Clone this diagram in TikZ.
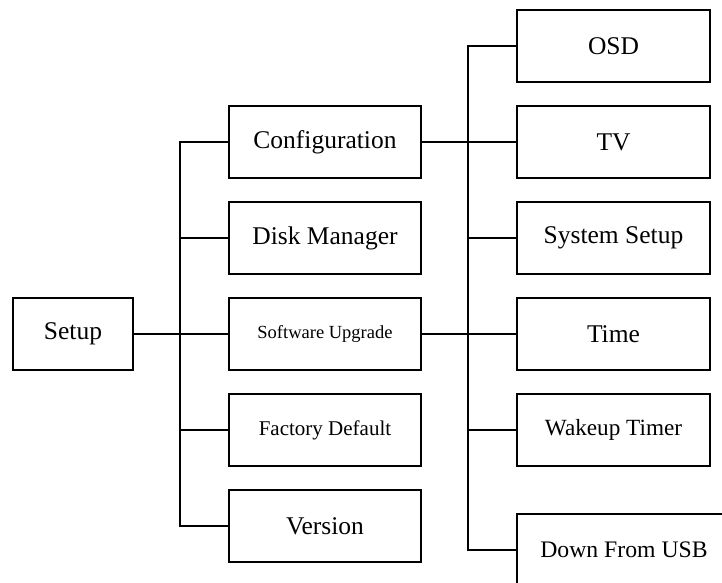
\documentclass[tikz,border=0pt]{standalone}
\usepackage{fontspec}
\setmainfont{Liberation Serif}
\usepackage{tikz}
\usetikzlibrary{positioning, calc}

\begin{document}
\begin{tikzpicture}[x=1pt,y=-1pt,line width=1.6pt,
			menu node/.style={rectangle,draw,minimum width=192pt,minimum height=72pt,inner sep=0pt,
				font=\fontsize{25.5}{30}\selectfont},
			sub node/.style={menu node,minimum width=193pt},
			bus/.style={line width=2.6pt}]
			\clip (0,0) rectangle (722,582);
			
			\node[menu node,minimum width=120pt] (setup) at (73,334) {Setup};
			
			\node[menu node] (config) at (325,142) {Configuration};
			\node[menu node] (disk) at (325,238) {Disk Manager};
			\node[menu node,font=\fontsize{18.5}{22}\selectfont] (soft) at (325,334) {Software Upgrade};
			\node[menu node,font=\fontsize{21}{25}\selectfont] (factory) at (325,430) {Factory Default};
			\node[menu node] (version) at (325,526) {Version};
			
			\node[sub node] (osd) at (613.5,46) {OSD};
			\node[sub node] (tv) at (613.5,142) {TV};
			\node[sub node] (sys) at (613.5,238) {System Setup};
			\node[sub node] (time) at (613.5,334) {Time};
			\node[sub node,font=\fontsize{23.2}{27}\selectfont] (wake) at (613.5,430) {Wakeup Timer};
			\node[sub node,minimum width=214pt,font=\fontsize{23.7}{28}\selectfont] (usb) at (624,550) {Down From USB};
			
			% first level
			\draw (config.west) -- ++(-48,0) |- (version.west);
			\draw (disk.west) -- ++(-48,0);
			\draw (soft.west) -- ++(-48,0);
			\draw (factory.west) -- ++(-48,0);
			\draw[bus] (setup.east) -- ++(48,0);
			
			% second level
			\draw (osd.west) -- ++(-48,0) |- (usb.west);
			\draw (tv.west) -- ++(-48,0);
			\draw (sys.west) -- ++(-48,0);
			\draw (wake.west) -- ++(-48,0);
			\draw[bus] (config.east) -- ++(48,0);
			\draw (soft.east) -- (time.west);
		\end{tikzpicture}
\end{document}
